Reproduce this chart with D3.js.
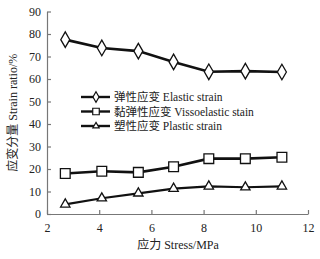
<!DOCTYPE html>
<html lang="zh">
<head>
<meta charset="UTF-8">
<title>Strain ratio vs stress</title>
<script src="https://d3js.org/d3.v7.min.js"></script>
<style>
  body { margin: 0; background: #fff; }
  svg text { font-family: "Liberation Serif", "Noto Sans CJK SC", serif; }
</style>
</head>
<body>
<div id="chart"></div>
<script>
const w = 320;
const h = 259;

// data
const stress = [2.7, 4.1, 5.5, 6.85, 8.2, 9.6, 11.0];
const elastic = [77.5, 73.8, 72.4, 67.6, 63.2, 63.5, 63.1];
const visco = [18.0, 19.0, 18.5, 21.0, 24.6, 24.6, 25.2];
const plastic = [4.3, 7.0, 9.2, 11.3, 12.3, 11.9, 12.3];
const seriesNames = ["弹性应变 Elastic strain", "黏弹性应变 Vissoelastic stain", "塑性应变 Plastic strain"];
const xTicks = [2, 4, 6, 8, 10, 12];
const yTicks = [0, 10, 20, 30, 40, 50, 60, 70, 80, 90];

const margin = {top: 11.5, right: 12, bottom: 45, left: 47};

const x = d3.scaleLinear().domain([2, 12]).range([margin.left, w - margin.right]);
const y = d3.scaleLinear().domain([0, 90]).range([h - margin.bottom, margin.top]);

const svg = d3.select('#chart').append('svg')
    .attr('width', w)
    .attr('height', h);

const axisColor = '#777';

const xAxis = svg.append('g')
    .attr('transform', `translate(0,${y(0)})`)
    .call(d3.axisBottom(x).tickValues(xTicks).tickSizeInner(-4).tickSizeOuter(0).tickPadding(9));
const yAxis = svg.append('g')
    .attr('transform', `translate(${x(2)},0)`)
    .call(d3.axisLeft(y).tickValues(yTicks).tickSizeInner(-4).tickSizeOuter(0).tickPadding(6));

[xAxis, yAxis].forEach(a => {
    a.select('.domain').attr('stroke', axisColor).attr('stroke-width', 1.2);
    a.selectAll('.tick line').attr('stroke', axisColor).attr('stroke-width', 1.2);
    a.selectAll('.tick text').attr('fill', '#222').style('font-size', '12px');
});

const series = [
    {name: seriesNames[0], values: elastic, shape: d3.symbolDiamond, size: 70, width: 2.6},
    {name: seriesNames[1], values: visco, shape: d3.symbolSquare, size: 95, width: 2.6},
    {name: seriesNames[2], values: plastic, shape: d3.symbolTriangle, size: 38, width: 2.2}
];

const line = d3.line().x(d => x(d[0])).y(d => y(d[1]));

series.forEach(s => {
    const pts = stress.map((v, i) => [v, s.values[i]]);
    svg.append('path')
        .datum(pts)
        .attr('d', line)
        .attr('fill', 'none')
        .attr('stroke', '#111')
        .attr('stroke-width', s.width);
    svg.append('g').selectAll('path')
        .data(pts)
        .enter()
        .append('path')
        .attr('d', d3.symbol().type(s.shape).size(s.size))
        .attr('transform', d => `translate(${x(d[0])},${y(d[1])})`)
        .attr('fill', '#fff')
        .attr('stroke', '#111')
        .attr('stroke-width', 1.3);
});

// legend
const legend = svg.append('g').attr('transform', 'translate(81,97)');
series.forEach((s, i) => {
    const row = legend.append('g').attr('transform', `translate(0,${i * 14.5})`);
    row.append('line')
        .attr('x1', 0).attr('x2', 29)
        .attr('stroke', '#111').attr('stroke-width', 2.4);
    row.append('path')
        .attr('d', d3.symbol().type(s.shape).size(s.size * 0.45))
        .attr('transform', 'translate(15,0)')
        .attr('fill', '#fff').attr('stroke', '#111').attr('stroke-width', 1.2);
    row.append('text')
        .attr('x', 33).attr('y', 4)
        .attr('fill', '#222')
        .style('font-size', '11.5px')
        .text(s.name);
});

// axis titles
svg.append('text')
    .attr('x', 178).attr('y', 249)
    .attr('text-anchor', 'middle')
    .attr('fill', '#222')
    .style('font-size', '12px')
    .text('应力 Stress/MPa');

svg.append('text')
    .attr('transform', `translate(17,${(y(0) + y(90)) / 2}) rotate(-90)`)
    .attr('text-anchor', 'middle')
    .attr('fill', '#222')
    .style('font-size', '12px')
    .text('应变分量 Strain ratio/%');
</script>
</body>
</html>
